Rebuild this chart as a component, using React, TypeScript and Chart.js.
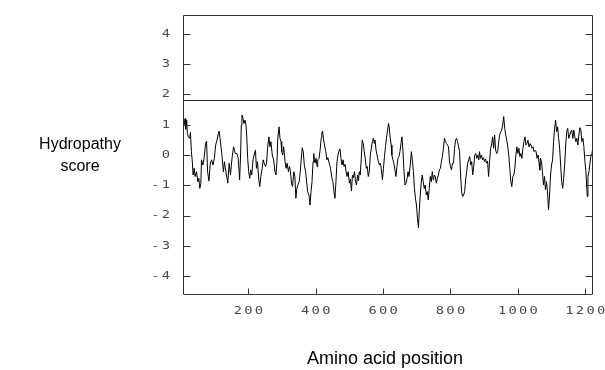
import React, { useEffect, useRef } from "react";
import { Chart, registerables } from "chart.js";

Chart.register(...registerables);

// Residue positions (window centres) and Kyte-Doolittle hydropathy scores
const positions = [
  10, 12, 14, 17, 19, 22, 26, 28, 31, 34, 36, 39, 42, 46, 50, 53, 56, 59, 61, 65, 68, 73, 76, 79, 83, 87, 91, 95, 99, 103, 107, 111, 113, 116, 121, 126, 129, 131, 135, 139, 143, 147, 151, 156, 159, 161, 166,
  170, 174, 177, 179, 181, 184, 187, 190, 193, 195, 198, 201, 204, 207, 210, 214, 217, 221, 224, 227, 231, 234, 237, 241, 244, 247, 251, 254, 257, 261, 264, 267, 271, 275, 279, 282, 285, 287, 291, 294, 297, 299, 302, 305, 309, 312, 315, 319, 322, 325, 328, 331, 335, 338, 341, 344, 347,
  351, 354, 358, 360, 363, 366, 370, 373, 376, 380, 383, 386, 389, 392, 394, 396, 398, 401, 404, 406, 410, 413, 416, 418, 420, 423, 426, 430, 433, 436, 440, 444, 448, 451, 454, 457, 460, 463, 466, 469, 472, 475, 478, 481, 484, 487, 490, 493, 496, 500, 503, 506, 509, 512, 515, 518, 521, 524,
  527, 529, 532, 535, 538, 541, 544, 547, 550, 553, 556, 559, 562, 565, 568, 571, 574, 576, 579, 582, 586, 589, 592, 595, 598, 601, 604, 607, 610, 613, 616, 618, 621, 624, 626, 629, 632, 635, 638, 641, 644, 647, 650, 653, 656, 659, 662, 665, 668, 671, 674, 677, 681, 684, 687, 690, 693, 696, 699, 702, 705, 707,
  710, 713, 716, 719, 722, 725, 728, 731, 734, 737, 740, 743, 746, 749, 752, 755, 758, 761, 764, 767, 770, 773, 776, 779, 782, 785, 788, 791, 794, 797, 800, 803, 806, 809, 812, 815, 818, 821, 824, 827, 830, 833, 836, 839, 842, 845, 848, 851, 854, 857, 860, 863, 866, 869, 872, 875, 878, 881, 884,
  886, 889, 892, 895, 898, 901, 904, 907, 910, 913, 916, 919, 922, 925, 928, 931, 934, 937, 940, 943, 946, 949, 952, 955, 958, 961, 964, 967, 970, 973, 976, 979, 982, 985, 988, 991, 994, 997, 1000, 1003, 1006, 1009, 1012, 1015, 1018, 1021, 1024, 1027, 1030, 1033, 1036, 1039, 1042, 1045, 1048, 1051, 1054, 1057, 1060, 1063, 1065, 1067,
  1070, 1073, 1076, 1079, 1082, 1085, 1088, 1091, 1094, 1097, 1100, 1103, 1106, 1109, 1112, 1115, 1118, 1121, 1124, 1127, 1130, 1133, 1136, 1139, 1142, 1145, 1148, 1151, 1154, 1157, 1160, 1163, 1166, 1169, 1172, 1175, 1178, 1181, 1184, 1187, 1190, 1193, 1196, 1199, 1202, 1204, 1206, 1208, 1211, 1214, 1217, 1220, 1222,
];

const scores = [
  1.0, 1.2, 0.85, 1.15, 0.7, 0.6, 0.55, 0.75, 0.11, -0.27, -0.66, -0.44, -0.71, -0.55, -0.88, -0.77, -1.1, -0.93, -0.16, -0.33, -0.16, 0.38, 0.46, -0.55, -0.86, -0.27, -0.16, -0.33, -0.11, 0.33, 0.49, 0.71, 0.79, 0.55, 0.05, -0.55, -0.22, -0.38, -0.66, -0.93, -0.27, -0.66, -0.16, 0.27, 0.16, 0.05, 0.05,
  -0.11, -0.82, 0, 0.99, 1.32, 1.21, 1.04, 1.15, 0.99, 0.66, -0.11, -0.55, -0.77, -0.49, -0.66, -0.16, 0, 0.16, -0.44, -0.22, -0.82, -1.04, -0.71, -0.44, -0.16, -0.27, -0.38, -0.27, 0.22, 0.6, 0.27, 0.44, 0, -0.16, -0.55, -0.66, -0.22, 0.49, 0.93, 0.55, 0.44, 0.11, 0, 0.27, -0.22, -0.44, -0.27, -0.55, -0.38, -0.55, -0.93, -1.04, -0.55, -0.71, -1.43, -1.1, -0.99,
  -0.88, -0.55, 0, 0.24, 0.11, -0.33, -0.55, -0.88, -1.21, -1.32, -1.65, -1.21, -0.88, -0.22, 0.05, -0.16, -0.27, -0.11, -0.38, -0.16, -0.11, 0.16, 0.55, 0.71, 0.79, 0.55, 0.33, 0.11, -0.16, -0.09, -0.27, -0.44, -0.77, -0.88, -1.21, -1.43, -0.88, -0.22, 0, 0.13, 0.2, -0.11, -0.33, -0.16, -0.38, -0.31, -0.55, -0.71, -0.55, -0.93, -0.79, -1.19, -0.66, -0.75, -0.55, -0.88, -0.99, -0.66,
  -0.85, -0.55, -0.66, -0.16, 0.49, 0.38, 0.11, -0.11, -0.44, -0.38, -0.71, -0.55, 0, 0.22, 0.44, 0.55, 0.38, 0.49, 0.16, 0, -0.22, -0.33, -0.27, -0.49, -0.82, -0.44, -0.05, 0.27, 0.55, 0.82, 1.04, 0.93, 0.55, 0.33, 0, -0.16, -0.27, -0.49, -0.71, -0.38, -0.11, -0.05, 0.11, 0.38, 0.6, 0.11, -0.55, -0.99, -0.93, -0.77, -0.55, -0.71, -0.27, 0.11, -0.22, -0.55, -1.1, -1.43, -1.65, -2.09, -2.4, -1.9,
  -1.35, -0.93, -0.66, -0.88, -1.1, -0.99, -1.32, -1.21, -1.48, -1.1, -0.71, -0.88, -0.55, -0.82, -0.66, -0.71, -0.93, -0.77, -0.66, -0.49, -0.44, -0.22, -0.05, 0.22, 0.55, 0.44, 0.38, 0.33, 0.27, -0.22, -0.38, -0.49, -0.27, -0.27, 0.22, 0.49, 0.55, 0.44, 0.27, 0.11, -0.66, -1.21, -1.37, -1.32, -1.21, -0.82, -0.55, -0.27, -0.16, -0.05, -0.33, -0.22, -0.66, -0.38, 0, 0.05, -0.11, 0, -0.16,
  0.11, -0.11, 0, -0.16, -0.09, -0.22, -0.13, -0.27, -0.2, -0.71, -0.22, 0.22, 0.33, 0.6, 0.22, 0.66, 0.16, 0.05, 0.11, 0.44, 0.66, 0.77, 0.82, 0.99, 1.27, 0.88, 0.66, 0.49, 0.27, 0, -0.44, -0.88, -1.04, -0.71, -0.66, -0.44, 0, 0.27, 0.05, 0.22, -0.05, 0.05, -0.11, 0.22, 0.44, 0.6, 0.33, 0.38, 0.49, 0.27, 0.38, 0.33, 0.22, 0.27, 0.11, 0.16, 0.11, -0.11, 0, -0.27, -0.5, -0.1,
  -0.22, -0.55, -0.99, -0.71, -1.15, -0.88, -1.21, -1.81, -1.32, -0.66, -0.33, -0.16, 0.44, 0.88, 1.15, 0.77, 0.93, 0.55, 0.22, -0.33, -0.88, -1.1, -0.77, -0.33, 0.33, 0.77, 0.88, 0.55, 0.66, 0.77, 0.82, 0.55, 0.82, 0.6, 0.44, 0.55, 0.33, 0.66, 0.9, 0.82, 0.44, 0.55, 0.27, -0.22, -0.55, -0.99, -1.37, -0.71, -0.55, -0.27, 0, 0.05, 0.22,
];

const thresholdScore = 1.8;
const xTickValues = [200, 400, 600, 800, 1000, 1200];
const yTickValues = [-4, -3, -2, -1, 0, 1, 2, 3, 4];
const X_MIN = 6;
const X_MAX = 1223;
const Y_MIN = -4.62;
const Y_MAX = 4.62;

const yTitleLines = ["Hydropathy", "score"];
const xTitle = "Amino acid position";

export default function App() {
  const ref = useRef<HTMLCanvasElement>(null);

  useEffect(() => {
    if (!ref.current) return;

    const framePlugin = {
      id: "framePlugin",
      afterDraw(chart: any) {
        const { ctx, chartArea: a, scales } = chart;
        const xs = scales.x;
        const ys = scales.y;
        const L = Math.round(a.left) + 0.5;
        const R = Math.round(a.right) - 0.5;
        const T = Math.round(a.top) + 0.5;
        const B = Math.round(a.bottom) - 0.5;
        ctx.save();
        ctx.strokeStyle = "#333";
        ctx.lineWidth = 1;
        ctx.beginPath();
        ctx.moveTo(L, T);
        ctx.lineTo(R, T);
        ctx.lineTo(R, B);
        ctx.lineTo(L, B);
        ctx.closePath();
        // y ticks, inward on both sides
        yTickValues.forEach((v) => {
          const y = Math.round(ys.getPixelForValue(v)) + 0.5;
          ctx.moveTo(L, y);
          ctx.lineTo(L + 7, y);
          ctx.moveTo(R, y);
          ctx.lineTo(R - 7, y);
        });
        xTickValues.forEach((v) => {
          const x = Math.round(xs.getPixelForValue(v)) + 0.5;
          ctx.moveTo(x, B);
          ctx.lineTo(x, B - 6);
        });
        ctx.stroke();

        // tick labels (wide, thin plotter-style digits)
        const spacing = 1.8;
        const sx = 1.25;
        ctx.font = "11px 'DejaVu Sans Mono'";
        (ctx as any).letterSpacing = spacing + "px";
        ctx.fillStyle = "#4a4a4a";
        ctx.textBaseline = "middle";
        ctx.textAlign = "left";
        const drawLabel = (t: string, left: number, y: number) => {
          ctx.save();
          ctx.translate(left, y);
          ctx.scale(sx, 1);
          ctx.fillText(t, 0, 0);
          ctx.restore();
        };
        yTickValues.forEach((v) => {
          const t = String(v);
          const w = (ctx.measureText(t).width - spacing) * sx;
          drawLabel(t, 170 - w, ys.getPixelForValue(v));
        });
        xTickValues.forEach((v) => {
          const t = String(v);
          const w = (ctx.measureText(t).width - spacing) * sx;
          drawLabel(t, xs.getPixelForValue(v) - w / 2, B + 17);
        });
        (ctx as any).letterSpacing = "0px";

        // titles
        ctx.fillStyle = "#000";
        ctx.textAlign = "center";
        ctx.font = "16px 'Liberation Sans', Arial, sans-serif";
        ctx.fillText(yTitleLines[0], 80, 145);
        ctx.fillText(yTitleLines[1], 80, 167);
        ctx.font = "18px 'Liberation Sans', Arial, sans-serif";
        ctx.textBaseline = "alphabetic";
        ctx.fillText(xTitle, 385, 364);
        ctx.restore();
      },
    };

    const chart = new Chart(ref.current, {
      type: "line",
      data: {
        datasets: [
          {
            data: positions.map((p, i) => ({ x: p, y: scores[i] })),
            borderColor: "#000",
            borderWidth: 1,
            pointRadius: 0,
            tension: 0,
            fill: false,
          },
          {
            data: [
              { x: X_MIN, y: thresholdScore },
              { x: X_MAX, y: thresholdScore },
            ],
            borderColor: "#222",
            borderWidth: 1,
            pointRadius: 0,
            fill: false,
          },
        ],
      },
      options: {
        animation: false,
        responsive: false,
        devicePixelRatio: 1,
        layout: { padding: { left: 0, top: 15, right: 12, bottom: 0 } },
        plugins: {
          legend: { display: false },
          tooltip: { enabled: false },
          title: { display: false },
        },
        scales: {
          x: {
            type: "linear",
            min: X_MIN,
            max: X_MAX,
            grid: { display: false },
            border: { display: false },
            ticks: { display: false },
            afterFit(s: any) {
              s.height = 75;
            },
          },
          y: {
            type: "linear",
            min: Y_MIN,
            max: Y_MAX,
            grid: { display: false },
            border: { display: false },
            ticks: { display: false },
            afterFit(s: any) {
              s.width = 183;
            },
          },
        },
      },
      plugins: [framePlugin],
    } as any);

    return () => chart.destroy();
  }, []);

  return (
    <div style={{ position: "absolute", left: 0, top: 0, width: 605, height: 370, background: "#fff" }}>
      <canvas ref={ref} width={605} height={370} style={{ display: "block" }} />
    </div>
  );
}
